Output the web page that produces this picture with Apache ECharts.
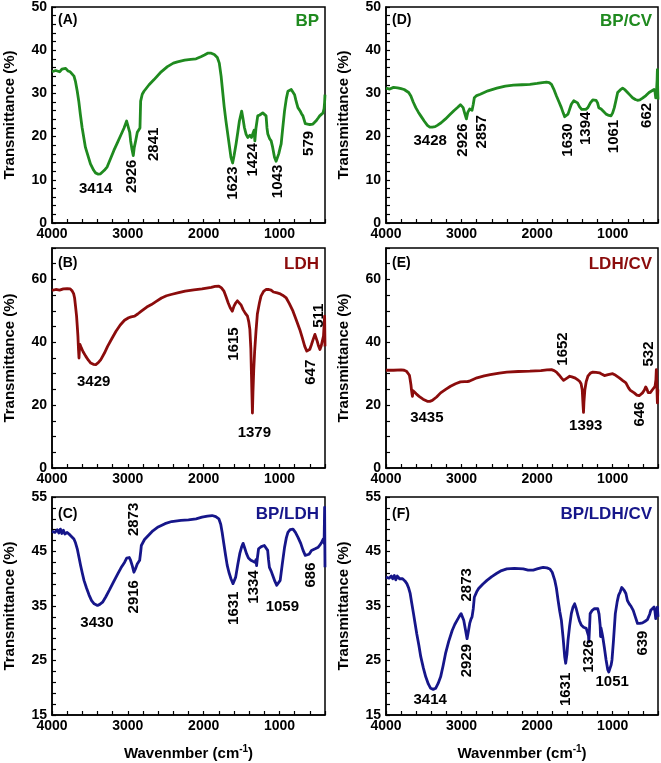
<!DOCTYPE html>
<html><head><meta charset="utf-8">
<script src="https://cdn.jsdelivr.net/npm/echarts@6/dist/echarts.min.js"></script>
<style>html,body{margin:0;padding:0;background:#fff}#c{width:661px;height:763px}</style>
</head><body><div id="c"></div>
<script>
// ---------- DATA ----------
const xTickLabels = [4000, 3000, 2000, 1000];

const bpW = [4000,3950,3900,3870,3846,3820,3790,3760,3735,3710,3691,3667,3647,3625,3603,3559,3493,3450,3426,3390,3360,3310,3272,3230,3184,3140,3096,3050,3016,2994,2975,2963,2945,2928,2915,2897,2875,2860,2853,2840,2831,2810,2787,2720,2654,2560,2478,2400,2346,2250,2169,2100,2037,1990,1948,1900,1860,1820,1794,1770,1750,1730,1706,1670,1640,1618,1600,1573,1550,1529,1499,1480,1463,1440,1419,1390,1370,1353,1335,1325,1310,1287,1260,1221,1195,1177,1165,1154,1140,1130,1110,1090,1066,1045,1031,1010,990,978,960,934,910,889,870,845,820,801,785,770,757,730,710,691,660,647,600,559,520,490,470,450,426,412,405,400];
const bpT = [35.0,35.3,35.0,35.6,35.4,35.8,35.2,35.0,34.7,34.0,32.8,30.5,28.2,25.0,22.1,17.5,13.7,12.2,11.6,11.3,11.4,12.2,13.0,14.8,16.8,18.5,20.2,22.0,23.6,23.2,21.0,19.0,17.0,15.6,17.5,19.0,21.0,21.3,20.6,22.0,28.2,29.8,30.5,32.0,33.2,35.0,36.2,37.0,37.3,37.7,37.9,38.0,38.5,38.9,39.3,39.3,39.0,38.3,37.0,34.0,30.5,27.0,23.6,19.0,15.2,13.9,15.5,18.3,21.0,23.6,25.9,24.0,22.1,20.5,19.8,20.3,19.8,20.0,21.5,19.0,22.0,24.8,25.0,25.5,25.2,24.8,22.0,20.6,21.0,19.5,19.0,17.5,15.2,14.3,14.3,16.0,17.5,18.3,21.5,25.9,28.8,30.5,30.5,30.9,30.5,29.7,28.5,27.5,26.7,26.0,25.3,24.8,23.0,22.7,22.8,22.9,23.6,24.3,24.8,25.2,25.5,26.5,28.0,29.7];

const bpcvW = [4000,3950,3900,3847,3800,3760,3737,3700,3671,3640,3606,3570,3540,3490,3452,3420,3387,3350,3321,3270,3212,3160,3102,3050,3015,2995,2979,2960,2936,2925,2918,2892,2875,2861,2845,2831,2800,2752,2650,2533,2420,2314,2200,2095,2000,1930,1876,1840,1810,1780,1744,1710,1679,1655,1635,1610,1591,1570,1547,1515,1490,1465,1438,1410,1385,1355,1328,1295,1263,1240,1219,1200,1184,1170,1153,1120,1087,1050,1022,1000,978,955,934,900,868,835,803,770,737,700,671,640,605,560,518,480,452,440,430,420,412,408,404,400];
const bpcvT = [31.2,31.0,31.4,31.3,31.1,30.9,30.7,30.2,29.4,28.0,26.7,25.6,24.8,23.5,22.6,22.2,22.2,22.3,22.6,23.2,24.1,25.0,26.0,26.8,27.4,27.1,26.7,25.5,24.1,24.5,25.6,26.4,26.5,26.1,27.5,29.0,29.5,29.8,30.6,31.2,31.7,31.9,32.0,32.1,32.3,32.5,32.6,32.5,32.1,31.0,29.4,28.0,26.7,25.5,24.6,24.8,25.2,26.3,27.5,28.3,28.5,27.8,26.9,26.3,26.0,26.3,26.7,27.8,28.5,28.6,28.4,27.8,26.7,26.8,26.4,25.8,25.2,24.9,24.8,25.5,26.7,28.5,30.2,30.8,31.2,30.8,30.2,29.6,29.0,28.6,28.4,28.5,28.9,29.5,30.2,30.6,30.9,30.4,29.0,30.5,33.0,35.5,31.0,28.6];

const ldhW = [4000,3950,3900,3850,3800,3760,3733,3715,3702,3690,3676,3665,3658,3650,3644,3638,3631,3613,3590,3556,3520,3489,3455,3422,3390,3356,3310,3267,3210,3156,3100,3044,2990,2956,2911,2870,2822,2750,2689,2620,2556,2490,2430,2422,2410,2330,2244,2130,2022,1900,1850,1800,1765,1733,1705,1676,1650,1622,1600,1578,1555,1533,1505,1480,1450,1422,1405,1391,1378,1370,1364,1357,1350,1340,1328,1310,1292,1265,1244,1210,1178,1140,1111,1080,1067,1030,1000,960,911,870,822,780,733,700,667,640,622,600,578,555,533,520,502,485,467,450,431,420,412,405,400];
const ldhT = [56.5,56.8,56.6,57.0,57.1,57.0,56.3,55.5,54.1,51.5,48.3,44.5,41.9,37.5,35.0,38.0,39.3,38.2,37.0,35.6,34.3,33.4,33.0,32.9,33.5,34.5,36.5,38.7,41.2,43.5,45.5,47.0,47.8,48.1,48.3,49.0,49.9,51.2,52.0,53.1,54.1,54.8,55.2,54.8,55.3,55.8,56.3,56.7,57.0,57.5,57.8,57.9,57.3,56.3,54.5,52.5,51.0,49.9,51.5,52.5,53.2,53.1,51.8,50.4,49.2,48.3,46.5,44.1,38.0,30.0,24.0,17.5,24.0,31.0,37.0,43.5,49.0,52.5,54.7,56.2,56.8,56.8,56.6,56.0,55.7,55.7,55.5,55.0,54.1,52.3,49.9,47.2,44.1,41.5,38.7,37.2,36.8,37.8,39.3,41.0,42.5,42.0,40.3,38.8,37.7,38.8,40.9,42.0,42.5,48.3,38.7];

const ldhcvW = [4000,3900,3800,3759,3730,3707,3690,3680,3670,3663,3655,3650,3642,3628,3600,3562,3510,3453,3420,3387,3330,3277,3210,3146,3080,3015,2960,2927,2900,2880,2796,2700,2620,2500,2401,2250,2095,1950,1870,1810,1775,1744,1710,1679,1650,1635,1600,1569,1540,1503,1470,1438,1418,1403,1392,1386,1380,1368,1350,1328,1295,1263,1220,1175,1140,1109,1060,1000,960,912,870,825,800,790,781,770,745,715,680,649,625,605,580,562,545,530,518,500,474,450,439,428,422,415,408,402];
const ldhcvT = [31.1,31.1,31.2,31.1,30.8,30.3,29.5,28.1,26.5,24.9,23.5,22.8,24.6,24.4,23.6,22.8,21.9,21.2,21.2,21.5,22.6,23.9,25.0,26.0,26.8,27.4,27.5,27.5,27.6,27.8,28.7,29.3,29.7,30.2,30.5,30.7,30.8,31.0,31.2,31.3,31.0,30.5,29.6,28.7,27.9,27.9,28.7,29.2,29.0,28.7,28.2,27.6,26.8,24.9,20.0,17.7,21.0,24.9,27.5,29.2,30.2,30.5,30.4,30.3,29.8,29.4,29.7,30.0,29.5,28.7,27.9,27.1,26.6,25.5,26.0,24.8,24.6,23.9,23.2,23.0,23.3,23.9,24.8,25.8,25.0,24.0,23.4,24.0,24.9,25.5,26.0,28.0,31.3,26.0,20.7,25.0];

const bpldhW = [4000,3960,3930,3910,3889,3870,3850,3830,3800,3760,3711,3690,3667,3645,3622,3600,3578,3545,3511,3478,3444,3420,3400,3370,3333,3290,3244,3190,3133,3090,3044,3015,3000,2982,2964,2940,2920,2900,2876,2860,2844,2830,2822,2780,2733,2670,2600,2510,2422,2300,2200,2100,2022,1950,1889,1840,1800,1775,1756,1735,1711,1690,1667,1640,1613,1595,1578,1550,1524,1500,1480,1458,1435,1410,1378,1350,1320,1310,1302,1290,1276,1240,1200,1175,1156,1145,1133,1110,1089,1060,1036,1010,991,965,933,910,889,860,840,822,790,756,720,689,660,636,610,578,530,489,460,440,422,412,405,400];
const bpldhT = [48.7,48.5,49.0,48.4,49.1,48.3,48.9,48.2,48.5,48.0,47.3,46.6,45.5,44.0,42.4,41.0,39.7,38.3,37.0,36.0,35.4,35.2,35.1,35.3,35.7,36.7,37.9,39.4,40.9,42.0,43.0,43.8,44.1,43.9,43.4,42.3,41.2,41.8,42.7,43.0,43.4,45.0,46.1,47.2,47.9,48.8,49.5,50.1,50.5,50.7,50.8,51.0,51.3,51.5,51.6,51.4,51.0,50.0,48.5,46.5,44.3,42.5,41.2,40.0,39.1,39.4,40.3,42.6,44.6,45.8,46.5,45.6,44.6,43.8,43.4,43.2,43.0,43.5,42.4,44.0,45.5,45.9,46.1,45.8,45.2,43.5,42.1,41.4,40.6,39.5,38.8,39.0,39.7,42.5,45.8,47.5,48.5,49.0,49.1,49.1,48.5,47.6,46.5,45.2,44.3,44.0,44.5,45.2,45.5,45.8,46.3,46.8,47.3,46.5,53.1,42.1];

const bpldhcvW = [4000,3960,3930,3910,3890,3870,3850,3820,3781,3750,3724,3700,3680,3660,3636,3615,3593,3565,3540,3505,3474,3440,3409,3375,3343,3310,3277,3245,3212,3170,3124,3090,3058,3030,3006,2990,2971,2950,2927,2910,2892,2875,2861,2845,2831,2800,2774,2720,2664,2600,2533,2470,2401,2300,2183,2120,2051,2000,1950,1920,1870,1832,1800,1766,1745,1722,1700,1679,1655,1635,1622,1605,1591,1570,1547,1525,1503,1482,1460,1440,1416,1385,1350,1330,1320,1315,1306,1298,1270,1241,1220,1197,1180,1166,1160,1155,1140,1131,1110,1087,1065,1052,1035,1020,1009,990,965,940,921,900,880,868,845,825,805,781,755,728,700,671,640,605,570,540,510,496,470,452,440,430,420,408,400];
const bpldhcvT = [40.3,40.1,40.5,40.0,40.6,39.8,40.5,40.0,40.0,39.6,39.1,38.3,37.3,35.6,33.6,31.8,29.9,27.8,25.7,23.6,22.0,20.7,19.9,19.7,19.9,20.8,22.0,24.0,26.3,28.5,30.5,31.6,32.4,33.1,33.6,33.3,32.4,30.8,29.0,30.3,31.8,32.6,33.0,34.5,36.6,37.6,38.2,39.0,39.7,40.4,41.0,41.5,41.8,41.9,41.8,41.6,41.6,41.8,42.0,42.1,42.0,41.8,41.2,39.7,38.3,36.0,34.0,32.4,29.0,25.7,24.5,26.2,28.7,31.3,33.6,34.8,35.4,34.5,33.3,32.3,31.5,31.1,30.9,31.2,29.5,28.4,31.0,33.6,34.2,34.5,34.6,34.5,33.5,31.5,29.4,31.0,30.0,29.3,27.4,25.1,23.3,22.9,23.2,24.2,25.1,28.5,33.6,35.8,37.0,37.6,38.4,38.4,37.8,37.3,36.0,35.4,34.9,34.2,33.0,31.8,31.8,31.9,32.2,32.5,33.5,34.2,34.4,34.8,34.0,32.7,34.2,34.8,33.0];

// peak annotations: [text, wavenumber anchor, transmittance anchor]
const peaksA_h = [["3414", 3418, 7.8]];
const peaksA_v = [["2926", 2941, 10.7], ["2841", 2646, 18.1], ["1623", 1609, 9.1], ["1424", 1344, 14.5], ["1043", 1013, 9.5], ["579", 603, 18.3]];
const peaksB_h = [["3429", 3444, 27.3], ["1379", 1325, 11.1]];
const peaksB_v = [["1615", 1591, 39.3], ["647", 578, 30.3], ["511", 476, 48.3]];
const peaksC_h = [["3430", 3400, 31.9], ["1059", 956, 34.8]];
const peaksC_v = [["2916", 2911, 36.6], ["2873", 2911, 50.8], ["1631", 1591, 34.5], ["1334", 1325, 38.4], ["686", 578, 40.6]];
const peaksD_h = [["3428", 3409, 18.8]];
const peaksD_v = [["2926", 2979, 19.1], ["2857", 2730, 21.0], ["1630", 1591, 19.1], ["1394", 1350, 21.8], ["1061", 978, 19.9], ["662", 540, 24.8]];
const peaksE_h = [["3435", 3453, 15.9], ["1393", 1350, 13.3]];
const peaksE_v = [["1652", 1657, 37.7], ["646", 627, 17.0], ["532", 518, 36.1]];
const peaksF_h = [["3414", 3409, 17.7], ["1051", 1000, 20.9]];
const peaksF_v = [["2929", 2927, 24.9], ["2873", 2927, 38.8], ["1631", 1613, 19.6], ["1326", 1315, 25.7], ["639", 592, 28.1]];

const panelLetters = ["(A)", "(B)", "(C)", "(D)", "(E)", "(F)"];
const panelNames = ["BP", "LDH", "BP/LDH", "BP/CV", "LDH/CV", "BP/LDH/CV"];

// ---------- BUILD ----------
const FONT = "Liberation Sans";
const GREEN = "#1f8a1f", RED = "#8b0c0c", BLUE = "#16168a";
const zip = (w, t) => w.map((v, i) => [v, t[i]]);
const pk = arr => arr.map(p => [p[1], p[2], p[0]]);

const panels = [
  {w: bpW, t: bpT, c: GREEN, h: peaksA_h, v: peaksA_v, y: "A"},
  {w: ldhW, t: ldhT, c: RED, h: peaksB_h, v: peaksB_v, y: "B"},
  {w: bpldhW, t: bpldhT, c: BLUE, h: peaksC_h, v: peaksC_v, y: "C"},
  {w: bpcvW, t: bpcvT, c: GREEN, h: peaksD_h, v: peaksD_v, y: "A"},
  {w: ldhcvW, t: ldhcvT, c: RED, h: peaksE_h, v: peaksE_v, y: "B"},
  {w: bpldhcvW, t: bpldhcvT, c: BLUE, h: peaksF_h, v: peaksF_v, y: "C"}
];
const rowTop = [5, 248, 497], rowH = [218, 220, 218];
const colLeft = [52, 386], colW = [273, 272];

const yCfg = {
  A: {min: 0, max: 50, interval: 2, fmt: v => (v % 10 === 0 ? v : "")},
  B: {min: 0, max: 70, interval: 5, fmt: v => (v % 20 === 0 ? v : "")},
  C: {min: 15, max: 55, interval: 10, minor: 5, fmt: v => v}
};

const grid = [], xAxis = [], yAxis = [], series = [], title = [];
panels.forEach((p, i) => {
  const col = i < 3 ? 0 : 1, row = i % 3;
  grid.push({left: colLeft[col], top: rowTop[row], width: colW[col], height: rowH[row],
    show: true, borderColor: "#000", borderWidth: 1.5, backgroundColor: "transparent"});
  const bottom = row === 2;
  xAxis.push({
    gridIndex: i, type: "value", inverse: true, min: 400, max: 4000, interval: 200,
    axisLine: {onZero: false, lineStyle: {color: "#000", width: 1.5}},
    axisTick: {inside: true, length: 4, lineStyle: {color: "#000", width: 1.2}},
    splitLine: {show: false},
    axisLabel: {margin: 4, color: "#000", fontWeight: "bold", fontSize: 14, fontFamily: FONT,
      formatter: v => (xTickLabels.indexOf(v) >= 0 ? String(v) : "")},
    name: bottom ? "Wavenmber (cm{sup|-1})" : "",
    nameLocation: "middle", nameGap: 29,
    nameTextStyle: {color: "#000", fontWeight: "bold", fontSize: 15, fontFamily: FONT,
      rich: {sup: {fontSize: 10, fontWeight: "bold", fontFamily: FONT, color: "#000", padding: [0, 0, 9, 0]}}}
  });
  const yc = yCfg[p.y];
  yAxis.push({
    gridIndex: i, type: "value", min: yc.min, max: yc.max, interval: yc.interval,
    axisLine: {show: true, onZero: false, lineStyle: {color: "#000", width: 1.5}},
    axisTick: {show: true, inside: true, length: 4, lineStyle: {color: "#000", width: 1.2}},
    minorTick: yc.minor ? {show: true, splitNumber: yc.minor, length: 4, lineStyle: {color: "#000", width: 1.2}} : {show: false},
    splitLine: {show: false},
    axisLabel: {margin: 5, color: "#000", fontWeight: "bold", fontSize: 14, fontFamily: FONT, formatter: yc.fmt},
    name: "Transmittance (%)", nameLocation: "middle", nameGap: 35,
    nameTextStyle: {color: "#000", fontWeight: "bold", fontSize: 15, fontFamily: FONT}
  });
  series.push({type: "line", xAxisIndex: i, yAxisIndex: i, data: zip(p.w, p.t), showSymbol: false,
    symbol: "none", smooth: false, lineStyle: {color: p.c, width: 2.8, join: "round"}, silent: true, z: 3});
  const lab = {show: true, position: [0, 0], align: "center", verticalAlign: "middle",
    color: "#000", opacity: 1, textBorderWidth: 0, fontWeight: "bold", fontSize: 15,
    fontFamily: FONT, formatter: q => q.value[2]};
  series.push({type: "scatter", xAxisIndex: i, yAxisIndex: i, data: pk(p.h), symbolSize: 1,
    itemStyle: {opacity: 0}, silent: true, label: Object.assign({}, lab), z: 4});
  series.push({type: "scatter", xAxisIndex: i, yAxisIndex: i, data: pk(p.v), symbolSize: 1,
    itemStyle: {opacity: 0}, silent: true, label: Object.assign({rotate: 90}, lab), z: 4});
  const gx = colLeft[col], gy = rowTop[row];
  title.push({text: panelLetters[i], left: gx + 6, top: gy + (row === 2 ? 10 : 8), padding: 0,
    textStyle: {color: "#000", fontWeight: "bold", fontSize: 14, fontFamily: FONT}});
  title.push({text: panelNames[i], right: 661 - (gx + colW[col] - 6), top: gy + (row === 2 ? 9 : 8), padding: 0,
    textStyle: {color: p.c, fontWeight: "bold", fontSize: 17, fontFamily: FONT}});
});

const chart = echarts.init(document.getElementById("c"), null, {renderer: "canvas"});
chart.setOption({animation: false, backgroundColor: "#fff", title, grid, xAxis, yAxis, series});
</script></body></html>
